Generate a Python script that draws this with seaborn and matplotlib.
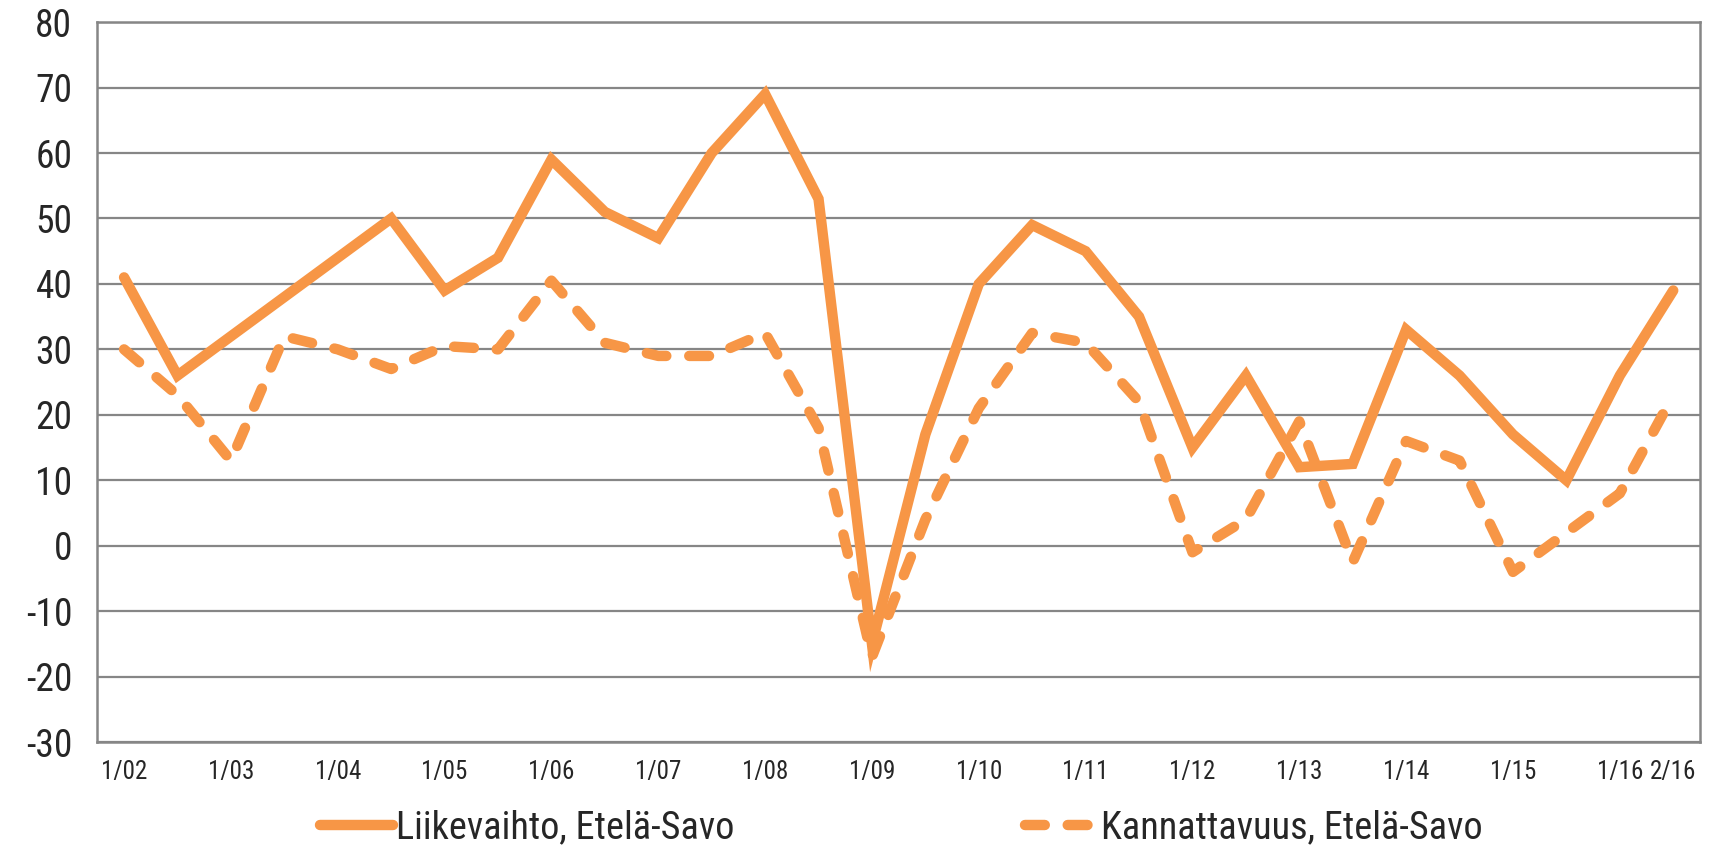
import matplotlib
matplotlib.use("Agg")
import matplotlib.pyplot as plt
from matplotlib import font_manager
import seaborn as sns
import pandas as pd

# Puolivuosittaiset jaksot 1/02 ... 2/16
jaksot = [f"{h}/{v:02d}" for v in range(2, 17) for h in (1, 2)]

liikevaihto = [41, 26, 32, 38, 44, 50, 39, 44, 59, 51,
               47, 60, 69, 53, -15, 17, 40, 49, 45, 35,
               15, 26, 12, 12.5, 33, 26, 17, 10, 26, 39]

kannattavuus = [30, 23, 13, 32, 30, 27, 30.5, 30, 40.5, 31,
                29, 29, 32.5, 18, -17, 4, 21, 32.5, 31, 22,
                -1, 4, 19, -2.5, 16, 13, -4, 2, 8, 23]

y_ticks = list(range(-30, 90, 10))

sns.set_style("white")

# kapea fontti jos sellainen löytyy
fontit = font_manager.fontManager.ttflist
nimet = {f.name for f in fontit}
fontti = "DejaVu Sans"
venytys = "normal"
for ehdokas in ["Liberation Sans Narrow", "Roboto Condensed", "Open Sans Condensed",
                "DejaVu Sans Condensed"]:
    if ehdokas in nimet:
        fontti = ehdokas
        break
else:
    if any(f.name == "DejaVu Sans" and "condensed" in str(f.stretch) for f in fontit):
        venytys = "condensed"
plt.rcParams['font.family'] = [fontti, 'DejaVu Sans']
plt.rcParams['font.stretch'] = venytys
kapea = fontti != "DejaVu Sans" or venytys == "condensed"
k = 1.0 if kapea else 0.85

df = pd.DataFrame({"i": range(len(jaksot)), "jakso": jaksot,
                   "Liikevaihto": liikevaihto, "Kannattavuus": kannattavuus})

vari = "#F79646"
harmaa = "#868686"

fig = plt.figure(figsize=(17.14, 8.51), dpi=100)
ax = fig.add_axes([0.0568, 0.128, 0.935, 0.846])

sns.lineplot(data=df, x="i", y="Liikevaihto", ax=ax, color=vari, linewidth=7.5,
             solid_capstyle="round", solid_joinstyle="miter",
             label="Liikevaihto, Etelä-Savo")
sns.lineplot(data=df, x="i", y="Kannattavuus", ax=ax, color=vari, linewidth=7.5,
             linestyle=(0, (1.9, 2.2)), dash_capstyle="round",
             label="Kannattavuus, Etelä-Savo")

ax.set_xlim(-0.5, len(jaksot) - 0.5)
ax.set_ylim(-30, 80)
ax.set_yticks(y_ticks)
ax.set_yticklabels([str(t) for t in y_ticks], fontsize=27 * k)

# joka toinen jakso näkyviin + viimeinen
nakyvat = list(range(0, len(jaksot), 2)) + [len(jaksot) - 1]
ax.set_xticks(nakyvat)
ax.set_xticklabels([jaksot[i] for i in nakyvat], fontsize=18 * k)
ax.tick_params(axis="both", length=0)
ax.tick_params(axis="x", pad=13)
ax.tick_params(axis="y", pad=18)

ax.grid(axis="y", color=harmaa, linewidth=1.6)
ax.set_axisbelow(True)
for s in ax.spines.values():
    s.set_color(harmaa)
    s.set_linewidth(1.8)

ax.set_xlabel("")
ax.set_ylabel("")

ax.legend_.remove()
h, l = ax.get_legend_handles_labels()
fig.legend(h, l, loc="center", bbox_to_anchor=(0.526, 0.027), ncol=2,
           frameon=False, fontsize=27.5 * k, handlelength=1.9, handletextpad=0.1,
           columnspacing=7.6 if kapea else 5.5, borderpad=0.1)

fig.savefig("out.png", dpi=100)
